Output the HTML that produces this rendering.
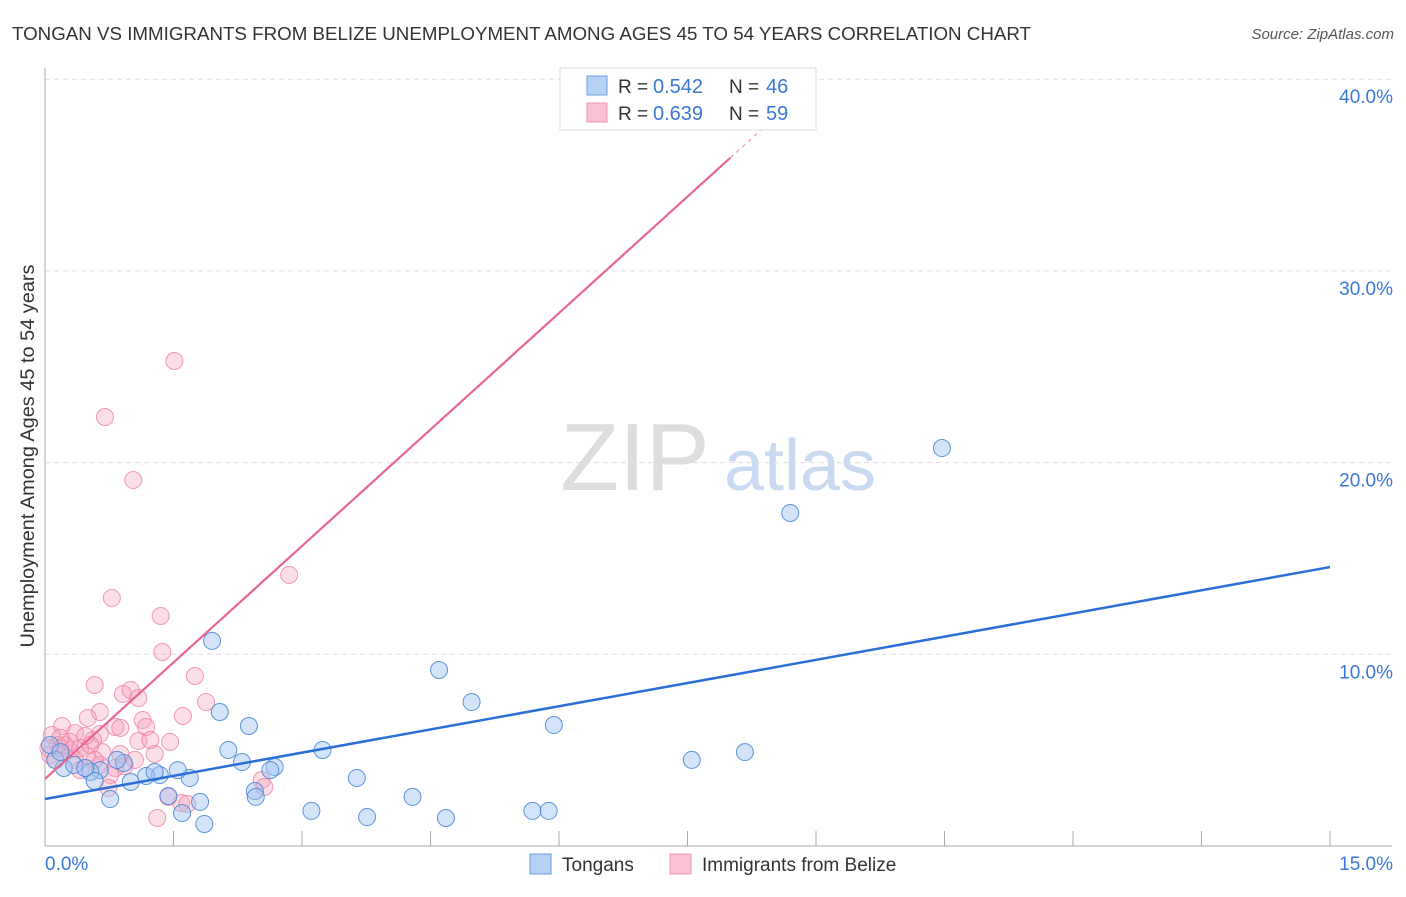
<!DOCTYPE html>
<html><head><meta charset="utf-8"><style>
body{margin:0;background:#fff;font-family:"Liberation Sans",sans-serif;}
svg text{font-family:"Liberation Sans",sans-serif;}
</style></head><body>
<svg id="chart" width="1406" height="892">
<text x="12" y="40" font-size="18.6" fill="#333" textLength="1019" lengthAdjust="spacingAndGlyphs">TONGAN VS IMMIGRANTS FROM BELIZE UNEMPLOYMENT AMONG AGES 45 TO 54 YEARS CORRELATION CHART</text>
<text x="1394" y="39" font-size="15" fill="#555" text-anchor="end" font-style="italic">Source: ZipAtlas.com</text>
<text x="34" y="456" font-size="19" fill="#333" text-anchor="middle" textLength="383" lengthAdjust="spacingAndGlyphs" transform="rotate(-90 34 456)">Unemployment Among Ages 45 to 54 years</text>
<g><text x="635" y="490" font-size="96" fill="#ddd" text-anchor="middle" font-family="Liberation Serif,serif">ZIP</text><text x="800" y="490" font-size="72" fill="#c9d9ef" text-anchor="middle">atlas</text></g>
<g id="grid"></g><g id="axes"></g><g id="marks"></g><g id="lines"></g>
<g>
<rect x="560" y="68" width="256" height="62" fill="#fff" stroke="#ddd"/>
<rect x="587" y="76" width="20" height="19" fill="#b7d1f3" stroke="#6d9fe0"/>
<rect x="587" y="103" width="20" height="19" fill="#f8c2d2" stroke="#ee95b0"/>
<text x="618" y="93" font-size="19" fill="#333">R =</text><text x="653" y="93" font-size="20" fill="#3a78d4">0.542</text>
<text x="729" y="93" font-size="19" fill="#333">N =</text><text x="766" y="93" font-size="20" fill="#3a78d4">46</text>
<text x="618" y="120" font-size="19" fill="#333">R =</text><text x="653" y="120" font-size="20" fill="#3a78d4">0.639</text>
<text x="729" y="120" font-size="19" fill="#333">N =</text><text x="766" y="120" font-size="20" fill="#3a78d4">59</text>
</g>
<g>
<rect x="530" y="854" width="21" height="20" fill="#b7d1f3" stroke="#6d9fe0"/>
<text x="562" y="871" font-size="19" fill="#333">Tongans</text>
<rect x="670" y="854" width="21" height="20" fill="#f8c2d2" stroke="#ee95b0"/>
<text x="702" y="871" font-size="19" fill="#333">Immigrants from Belize</text>
</g>
</svg>
<script>
const blueX=[1.95,10.47,8.70,4.60,4.98,5.94,8.17,7.55,2.04,2.38,3.24,2.14,2.30,2.68,2.63,3.64,1.69,1.55,1.34,1.18,1.28,1.00,0.92,0.84,0.64,0.53,0.58,0.76,0.22,0.34,0.12,0.06,2.45,2.46,1.81,1.44,1.60,1.86,3.11,3.76,4.29,4.68,5.69,5.88,0.18,0.47];
const blueY=[10.7,20.76,17.37,9.18,7.51,6.31,4.90,4.49,6.99,6.26,5.01,5.01,4.38,4.12,3.96,3.55,3.55,3.96,3.70,3.65,3.86,3.34,4.33,4.49,3.96,3.86,3.39,2.45,4.07,4.23,4.49,5.27,2.87,2.56,2.30,2.61,1.72,1.15,1.83,1.51,2.56,1.46,1.83,1.83,4.90,4.07];
const pinkX=[1.51,0.70,1.03,2.85,0.78,1.35,1.37,1.75,0.58,1.61,1.88,0.91,1.00,1.09,0.64,0.50,0.20,0.35,0.64,0.82,0.88,1.14,1.18,1.46,1.09,0.56,0.08,0.67,0.88,1.28,0.49,0.29,0.18,0.06,0.15,0.23,0.41,0.12,0.35,0.82,0.93,0.41,0.76,2.53,2.56,0.74,1.44,1.59,1.66,1.31,0.29,0.53,0.04,0.64,1.05,1.23,0.18,0.47,0.58];
const pinkY=[25.30,22.38,19.09,14.14,12.94,12.00,10.12,8.87,8.40,6.78,7.51,7.93,8.14,7.72,6.99,6.68,6.26,5.89,5.84,6.21,6.16,6.57,6.21,5.43,5.48,5.53,5.79,4.90,4.80,4.80,4.69,5.01,5.11,4.75,5.27,5.27,5.11,4.49,4.49,4.07,4.17,3.96,3.70,3.44,3.08,3.03,2.56,2.24,2.19,1.46,5.43,5.27,5.11,4.23,4.49,5.53,5.64,5.74,4.49];
const yTicks=[10,20,30,40];
const xTicks=[0,1.5,3,4.5,6,7.5,9,10.5,12,13.5,15];
const blueFit=[2.45,14.55];
const pinkFit=[3.5,4.05];
const NS="http://www.w3.org/2000/svg";
const sx=v=>45+v*1285/15, sy=v=>846-v*19.17;
function mk(p,t,a){const e=document.createElementNS(NS,t);for(const k in a)e.setAttribute(k,a[k]);document.getElementById(p).appendChild(e);return e;}
yTicks.forEach(t=>{
 const g=mk('grid','line',{x1:45,x2:1392,y1:sy(t),y2:sy(t),stroke:'#ddd','stroke-dasharray':'5,4'});
 
 
 const l=mk('axes','text',{x:1393,y:sy(t)+24,'font-size':19,fill:'#3a78d4','text-anchor':'end'});l.textContent=t.toFixed(1)+'%';
 
 
});
const ya=mk('axes','line',{x1:45,x2:45,y1:68,y2:846,stroke:'#aaa'});


const xa=mk('axes','line',{x1:45,x2:1392,y1:846,y2:846,stroke:'#aaa'});


xTicks.forEach(t=>{const e=mk('axes','line',{x1:sx(t),x2:sx(t),y1:831,y2:846,stroke:'#aaa'});
 
 });
[[0,'0.0%','start',45],[15,'15.0%','end',1393]].forEach(a=>{const e=mk('axes','text',{x:a[3],y:870,'font-size':19,fill:'#3a78d4','text-anchor':a[2]});e.textContent=a[1];
 
 });
pinkX.forEach((x,i)=>{const c=mk('marks','circle',{cx:sx(x),cy:sy(pinkY[i]),r:8.5,fill:'rgba(245,160,185,0.35)',stroke:'rgba(236,130,165,0.8)','stroke-width':1});
 
 });
blueX.forEach((x,i)=>{const c=mk('marks','circle',{cx:sx(x),cy:sy(blueY[i]),r:8.5,fill:'rgba(160,195,240,0.45)',stroke:'rgba(70,130,215,0.85)','stroke-width':1});
 
 });
const bl=mk('lines','line',{x1:sx(0),y1:sy(blueFit[0]),x2:sx(15),y2:sy(blueFit[1]),stroke:'#2a6fd6','stroke-width':2.5});


const pEnd=8.0, pTop=(40-pinkFit[0])/pinkFit[1];
const pl=mk('lines','line',{x1:sx(0),y1:sy(pinkFit[0]),x2:sx(pEnd),y2:sy(pinkFit[0]+pinkFit[1]*pEnd),stroke:'#e8668f','stroke-width':2.2});


const pd=mk('lines','line',{x1:sx(pEnd),y1:sy(pinkFit[0]+pinkFit[1]*pEnd),x2:sx(pTop),y2:sy(40),stroke:'#f0a0b8','stroke-width':1.2,'stroke-dasharray':'4,4'});


</script>
</body></html>
